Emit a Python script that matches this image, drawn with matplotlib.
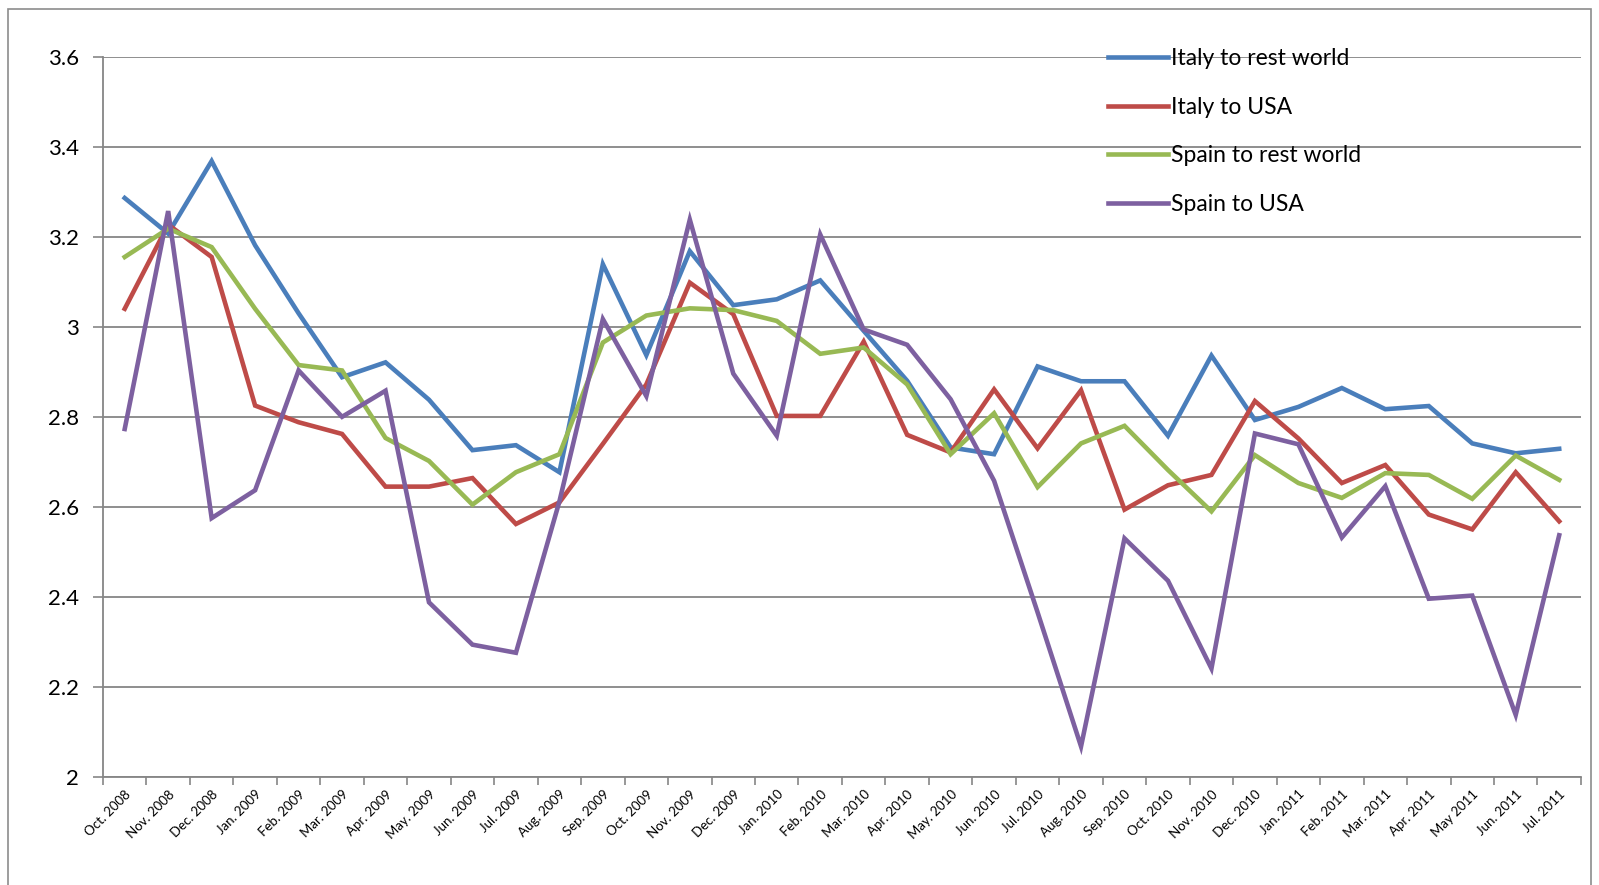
import matplotlib.pyplot as plt
import numpy as np
from matplotlib.patches import Rectangle

plt.rcParams['font.family'] = ['Lato', 'DejaVu Sans']

# meses
meses = ['Oct. 2008', 'Nov. 2008', 'Dec. 2008', 'Jan. 2009', 'Feb. 2009', 'Mar. 2009',
         'Apr. 2009', 'May. 2009', 'Jun. 2009', 'Jul. 2009', 'Aug. 2009', 'Sep. 2009',
         'Oct. 2009', 'Nov. 2009', 'Dec. 2009', 'Jan. 2010', 'Feb. 2010', 'Mar. 2010',
         'Apr. 2010', 'May. 2010', 'Jun. 2010', 'Jul. 2010', 'Aug. 2010', 'Sep. 2010',
         'Oct. 2010', 'Nov. 2010', 'Dec. 2010', 'Jan. 2011', 'Feb. 2011', 'Mar. 2011',
         'Apr. 2011', 'May 2011', 'Jun. 2011', 'Jul. 2011']

italy_rest = [3.286, 3.207, 3.368, 3.181, 3.03, 2.888, 2.921, 2.838, 2.726, 2.737, 2.677,
              3.139, 2.937, 3.168, 3.048, 3.061, 3.103, 2.991, 2.880, 2.732, 2.717,
              2.912, 2.879, 2.879, 2.758, 2.936, 2.793, 2.822, 2.864, 2.817, 2.824,
              2.741, 2.719, 2.729]
italy_usa = [3.04, 3.227, 3.155, 2.825, 2.788, 2.762, 2.645, 2.645, 2.664, 2.562, 2.61,
             2.74, 2.872, 3.098, 3.028, 2.802, 2.802, 2.967, 2.76, 2.721, 2.861,
             2.730, 2.859, 2.594, 2.648, 2.671, 2.835, 2.752, 2.653, 2.693, 2.583,
             2.55, 2.677, 2.568]
spain_rest = [3.155, 3.218, 3.177, 3.04, 2.915, 2.903, 2.753, 2.702, 2.605, 2.677, 2.717,
              2.965, 3.025, 3.041, 3.037, 3.013, 2.94, 2.954, 2.872, 2.717, 2.808,
              2.644, 2.741, 2.78, 2.682, 2.59, 2.715, 2.653, 2.62, 2.675, 2.671,
              2.618, 2.714, 2.66]
spain_usa = [2.773, 3.257, 2.575, 2.637, 2.903, 2.8, 2.858, 2.388, 2.294, 2.276, 2.612,
             3.017, 2.846, 3.238, 2.896, 2.758, 3.205, 2.994, 2.96, 2.839, 2.658,
             2.366, 2.068, 2.53, 2.436, 2.241, 2.763, 2.739, 2.532, 2.646, 2.396,
             2.403, 2.138, 2.537]

series = [('Italy to rest world', italy_rest, '#4a7ebb'),
          ('Italy to USA', italy_usa, '#be4b48'),
          ('Spain to rest world', spain_rest, '#98b954'),
          ('Spain to USA', spain_usa, '#7d60a0')]

x = np.arange(len(meses))

fig = plt.figure(figsize=(15.99, 8.85), dpi=100)
fig.patches.append(Rectangle((0.005, -0.01), 0.99, 1.0, transform=fig.transFigure,
                             fill=False, edgecolor='#8c8c8c', linewidth=1.2))
ax = fig.add_axes([0.0644, 0.122, 0.9243, 0.814])

for nombre, valores, color in series:
    ax.plot(x, valores, color=color, linewidth=3.3, label=nombre, solid_joinstyle='miter')

ax.set_xlim(-0.5, len(meses) - 0.5)
ax.set_ylim(2, 3.6)
ax.set_yticks(np.arange(2, 3.61, 0.2))
ax.set_yticklabels(['2', '2.2', '2.4', '2.6', '2.8', '3', '3.2', '3.4', '3.6'], fontsize=16)
ax.grid(axis='y', color='#868686', linewidth=1.3)
ax.set_axisbelow(True)

ax.set_xticks(np.arange(-0.5, len(meses), 1.0))
ax.set_xticklabels([])
ax.set_xticks(x, minor=True)
ax.set_xticklabels(meses, minor=True, rotation=45, ha='right', va='top',
                   fontsize=9.5, rotation_mode='anchor')
ax.tick_params(axis='x', which='major', length=6, color='#868686', width=1.2)
ax.tick_params(axis='x', which='minor', length=0, pad=8)
ax.tick_params(axis='y', length=7, color='#868686', width=1.2, pad=10)

for lado in ['top', 'right']:
    ax.spines[lado].set_visible(False)
ax.spines['left'].set_color('#868686')
ax.spines['bottom'].set_color('#868686')
ax.spines['left'].set_linewidth(1.3)
ax.spines['bottom'].set_linewidth(1.3)

ax.legend(loc='upper left', bbox_to_anchor=(0.666, 1.04), frameon=False, fontsize=16.5,
          handlelength=2.6, handletextpad=0.15, labelspacing=1.2)

plt.savefig('out.png', dpi=100)
